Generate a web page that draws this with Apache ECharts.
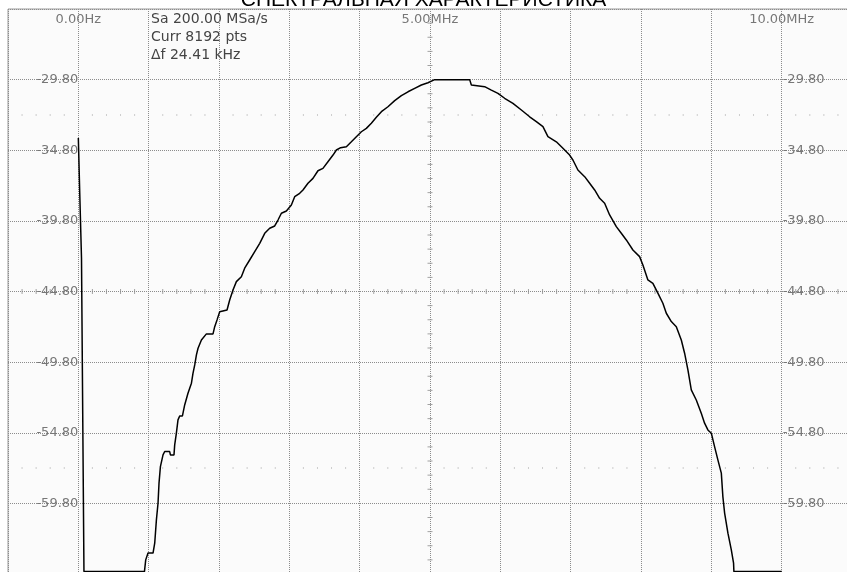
<!DOCTYPE html>
<html>
<head>
<meta charset="utf-8">
<title>Спектральная характеристика</title>
<script src="https://cdn.jsdelivr.net/npm/echarts@6/dist/echarts.min.js"></script>
<style>
	html, body { margin: 0; padding: 0; background: #fff; }
	#chart { width: 847px; height: 572px; }
</style>
</head>
<body>
<div id="chart"></div>
<script>
// частота, МГц
var freqMHz = [
	0.00, 0.02, 0.04, 0.045, 0.06, 0.065, 0.075, 0.08, 0.94,
	0.958, 0.991, 1.062, 1.086, 1.110, 1.133, 1.147, 1.167, 1.204, 1.228,
	1.299, 1.309, 1.360, 1.370, 1.394, 1.417, 1.441, 1.480, 1.512, 1.559,
	1.608, 1.630, 1.655, 1.679, 1.702, 1.750, 1.821, 1.915, 1.939, 1.972,
	2.010, 2.114, 2.152, 2.199, 2.247, 2.318, 2.365, 2.436, 2.508, 2.579,
	2.650, 2.721, 2.792, 2.839, 2.887, 2.958, 3.029, 3.076, 3.147, 3.194,
	3.265, 3.336, 3.407, 3.478, 3.549, 3.621, 3.669, 3.730, 3.811, 3.882,
	3.953, 4.024, 4.095, 4.166, 4.237, 4.309, 4.402, 4.498, 4.593, 4.687,
	4.782, 4.877, 4.971,
	5.066, 5.564,
	5.588, 5.777, 5.872, 5.966, 6.061, 6.179, 6.299, 6.417, 6.512, 6.606,
	6.677, 6.796, 6.890, 6.985, 7.032, 7.103, 7.199, 7.270, 7.341, 7.412,
	7.483, 7.554, 7.649, 7.720, 7.791, 7.885, 7.980, 8.027, 8.098, 8.169,
	8.240, 8.311, 8.360, 8.431, 8.502, 8.573, 8.620, 8.667, 8.715, 8.786,
	8.857, 8.904, 8.951, 9.000, 9.046, 9.093, 9.142, 9.164, 9.189, 9.236,
	9.284, 9.316, 9.321,
	10.00
];

// уровень, дБ
var levelDb = [
	-33.93, -37.83, -37.90, -42.43, -42.50, -55.16, -55.20, -64.63, -64.63,
	-63.80, -63.32, -63.32, -62.62, -60.97, -59.79, -58.37, -57.20, -56.37, -56.13,
	-56.13, -56.37, -56.37, -55.66, -54.83, -53.89, -53.61, -53.61, -52.83, -52.00,
	-51.29, -50.59, -50.00, -49.29, -48.82, -48.23, -47.80, -47.80, -47.29, -46.81,
	-46.23, -46.11, -45.40, -44.69, -44.10, -43.75, -43.15, -42.57, -41.98, -41.39,
	-40.68, -40.32, -40.16, -39.74, -39.26, -39.10, -38.67, -38.09, -37.85, -37.61,
	-37.14, -36.79, -36.25, -36.08, -35.61, -35.14, -34.78, -34.62, -34.55, -34.20,
	-33.84, -33.49, -33.25, -32.89, -32.47, -32.07, -31.72, -31.29, -30.94, -30.66,
	-30.42, -30.18, -30.02,
	-29.80, -29.80,
	-30.18, -30.30, -30.54, -30.77, -31.12, -31.48, -31.95, -32.43, -32.78, -33.13,
	-33.84, -34.20, -34.66, -35.14, -35.49, -36.20, -36.67, -37.14, -37.61, -38.20,
	-38.55, -39.38, -40.21, -40.68, -41.15, -41.86, -42.33, -42.92, -43.98, -44.22,
	-44.92, -45.63, -46.34, -46.93, -47.29, -48.23, -49.17, -50.35, -51.77, -52.48,
	-53.42, -54.12, -54.60, -54.83, -55.78, -56.72, -57.66, -59.32, -60.49, -61.91,
	-63.09, -64.03, -64.63,
	-64.63
];

// подписи оси частот
var freqTicks = [0, 5, 10];
var freqTickLabels = ['0.00Hz', '5.00MHz', '10.00MHz'];

// информация о сигнале
var infoLines = ['Sa 200.00 MSa/s', 'Curr 8192 pts', '\u0394f 24.41 kHz'];

// экран: 12 делений по 1 МГц, 8 делений по 5 дБ
var REF_DB = -24.8;        // верх экрана
var DB_SHIFT = 4.8;        // сдвиг, чтобы линии сетки легли на кратные 5
var CENTER_DB = -44.8;
var DOT_ROWS_DB = [-32.3, -57.3];
var FONT = '"DejaVu Sans", Verdana, sans-serif';
var LABEL_COLOR = '#777';

var trace = freqMHz.map(function (f, i) {
	return [f, levelDb[i] + DB_SHIFT];
});

// мелкие метки графики экрана
var hTicks = [], vTicks = [], dots = [];
for (var k = -5; k <= 55; k++) {
	if (k % 5 === 0) continue;
	hTicks.push([k / 5, CENTER_DB + DB_SHIFT]);
	DOT_ROWS_DB.forEach(function (d) {
		dots.push([k / 5, d + DB_SHIFT]);
	});
}
for (var j = 0; j <= 40; j++) {
	if (j % 5 === 0) continue;
	vTicks.push([5, REF_DB - 40 + j + DB_SHIFT]);
}

function levelLabel(v) {
	if (v >= -20 || v <= -60) return '';
	return (v - DB_SHIFT).toFixed(2);
}

var gridLine = {
	show: true,
	lineStyle: { color: '#8c8c8c', type: [1, 1], width: 1 }
};

var chart = echarts.init(document.getElementById('chart'));

chart.setOption({
	animation: false,
	backgroundColor: '#fff',
	title: {
		text: 'СПЕКТРАЛЬНАЯ ХАРАКТЕРИСТИКА',
		left: 'center',
		top: -10,
		padding: 0,
		textStyle: {
			fontFamily: '"Liberation Sans", Arial, sans-serif',
			fontSize: 21,
			fontWeight: 'normal',
			color: '#000'
		}
	},
	grid: {
		left: 8,
		top: 9,
		width: 844,
		height: 565,
		outerBoundsMode: 'none',
		containLabel: false,
		show: true,
		backgroundColor: '#fbfbfb',
		borderColor: '#9a9a9a',
		borderWidth: 1
	},
	xAxis: {
		type: 'value',
		min: -1,
		max: 11,
		interval: 1,
		position: 'top',
		axisLine: { show: false, onZero: false },
		axisTick: { show: false },
		axisLabel: {
			inside: true,
			margin: 4,
			fontFamily: FONT,
			fontSize: 13,
			color: LABEL_COLOR,
			formatter: function (v) {
				var i = freqTicks.indexOf(v);
				return i < 0 ? '' : freqTickLabels[i];
			}
		},
		splitLine: gridLine
	},
	yAxis: [{
		type: 'value',
		min: -60,
		max: -20,
		interval: 5,
		position: 'left',
		offset: -70.33,
		axisLine: { show: false, onZero: false },
		axisTick: { show: false },
		axisLabel: {
			margin: 0,
			fontFamily: FONT,
			fontSize: 13,
			color: LABEL_COLOR,
			formatter: levelLabel
		},
		splitLine: gridLine
	}, {
		type: 'value',
		min: -60,
		max: -20,
		interval: 5,
		position: 'right',
		offset: -70.33,
		axisLine: { show: false, onZero: false },
		axisTick: { show: false },
		axisLabel: {
			margin: 1,
			fontFamily: FONT,
			fontSize: 13,
			color: LABEL_COLOR,
			formatter: levelLabel
		},
		splitLine: { show: false }
	}],
	graphic: infoLines.map(function (t, i) {
		return {
			type: 'text',
			left: 151,
			top: 12 + i * 18,
			style: {
				text: t,
				font: '14px ' + FONT,
				fill: '#444'
			}
		};
	}),
	series: [{
		type: 'scatter',
		silent: true,
		symbol: 'rect',
		symbolSize: [1, 5],
		itemStyle: { color: '#8c8c8c' },
		data: hTicks,
		z: 1
	}, {
		type: 'scatter',
		silent: true,
		symbol: 'rect',
		symbolSize: [5, 1],
		itemStyle: { color: '#8c8c8c' },
		data: vTicks,
		z: 1
	}, {
		type: 'scatter',
		silent: true,
		symbol: 'rect',
		symbolSize: [1, 1],
		itemStyle: { color: '#888' },
		data: dots,
		z: 1
	}, {
		type: 'line',
		data: trace,
		showSymbol: false,
		symbol: 'none',
		lineStyle: { color: '#000', width: 1.5 },
		z: 3
	}]
});
</script>
</body>
</html>
